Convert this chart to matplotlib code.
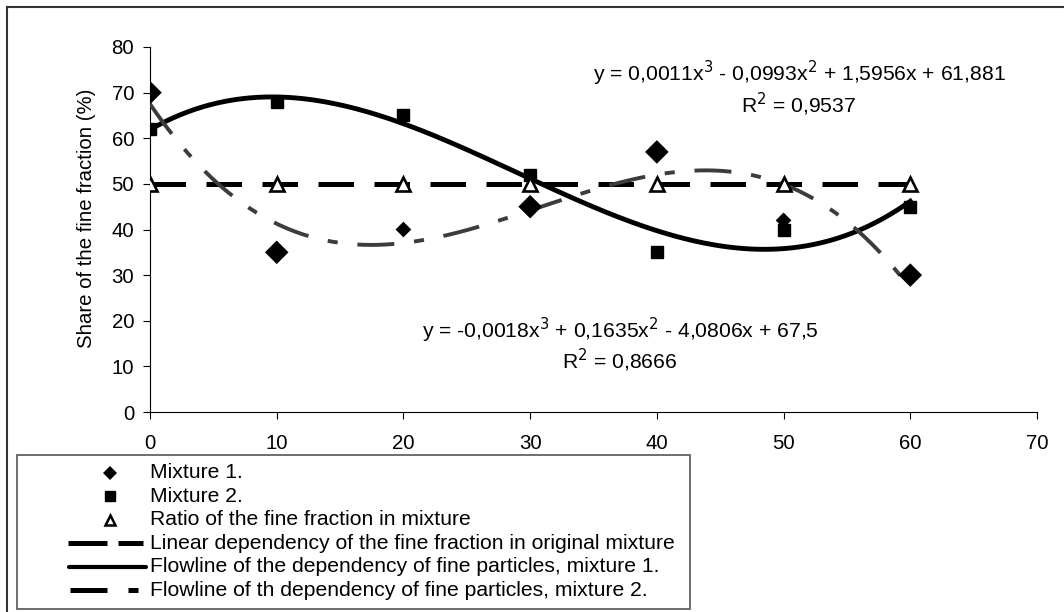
import matplotlib.pyplot as plt
from matplotlib.lines import Line2D
from matplotlib.patches import Rectangle
import numpy as np

plt.rcParams['font.family'] = ['Liberation Sans', 'DejaVu Sans']

# data
x = [0, 10, 20, 30, 40, 50, 60]
mix1 = [70, 35, 40, 45, 57, 42, 30]
mix2 = [62, 68, 65, 52, 35, 40, 45]
ratio = [50, 50, 50, 50, 50, 50, 50]

eq1 = 'y = 0,0011x$^3$ - 0,0993x$^2$ + 1,5956x + 61,881'
r2_1 = 'R$^2$ = 0,9537'
eq2 = 'y = -0,0018x$^3$ + 0,1635x$^2$ - 4,0806x + 67,5'
r2_2 = 'R$^2$ = 0,8666'

labels = ['Mixture 1.', 'Mixture 2.', 'Ratio of the fine fraction in mixture',
          'Linear dependency of the fine fraction in original mixture',
          'Flowline of the dependency of fine particles, mixture 1.',
          'Flowline of th dependency of fine particles, mixture 2.']

W, H = 1064, 612
FS = 15.2


def fx(px):
    return px / W


def fy(py):
    return 1 - py / H


fig = plt.figure(figsize=(W / 100, H / 100), dpi=100)
ax = fig.add_axes([fx(150), fy(412), fx(887), 365 / H])

# cubic trend lines (Excel polynomial order 3)
xs = np.linspace(0, 60, 300)
p2 = np.polyfit(x, mix2, 3)
p1 = np.polyfit(x, mix1, 3)
ax.plot(xs, np.polyval(p2, xs), color='black', lw=3.5, zorder=3)
ax.plot(xs, np.polyval(p1, xs), color='#3c3c3c', lw=2.8,
        dashes=(9.5, 5.1, 2.6, 5.1), zorder=3)
ax.plot(x, ratio, color='black', lw=3.6, dashes=(7.1, 4.1), zorder=2)

# the diamonds at 20 and 50 are drawn smaller in the original
dsize = [64 if i in (2, 5) else 144 for i in range(len(x))]
ax.scatter(x, mix1, marker='D', s=dsize, color='black', linewidths=0, zorder=4)
ax.plot(x, mix2, linestyle='none', marker='s', ms=9, color='black', zorder=4)
ax.plot(x, ratio, linestyle='none', marker='^', ms=10.5, mfc='white',
        mec='black', mew=1.9, zorder=5)

ax.set_xlim(0, 70)
ax.set_ylim(0, 80)
ax.set_xticks(range(0, 71, 10))
ax.set_yticks(range(0, 81, 10))
for s in ['top', 'right']:
    ax.spines[s].set_visible(False)
for s in ['left', 'bottom']:
    ax.spines[s].set_linewidth(0.8)
ax.tick_params(direction='out', length=5, width=0.8, labelsize=14.7)
ax.tick_params(axis='y', pad=6.5)
ax.tick_params(axis='x', pad=10.5)
fig.text(fx(86), fy(218), 'Share of the fine fraction (%)', rotation=90,
         ha='center', va='center', fontsize=14.7)

fig.text(fx(799), fy(73), eq1, ha='center', va='center', fontsize=FS)
fig.text(fx(799), fy(104), r2_1, ha='center', va='center', fontsize=FS)
fig.text(fx(620), fy(330), eq2, ha='center', va='center', fontsize=FS)
fig.text(fx(620), fy(360), r2_2, ha='center', va='center', fontsize=FS)

# legend, drawn by hand to get the Excel layout
rows = [fy(473 + 23.4 * i) for i in range(6)]
for i, lab in enumerate(labels):
    fig.text(fx(150), rows[i], lab, ha='left', va='center', fontsize=FS)
fig.add_artist(Line2D([fx(110)], [rows[0]], marker='D', ms=7, color='black',
                      mew=0, transform=fig.transFigure))
fig.add_artist(Line2D([fx(110)], [rows[1]], marker='s', ms=7.2, color='black',
                      transform=fig.transFigure))
fig.add_artist(Line2D([fx(110)], [rows[2]], marker='^', ms=7.5, mfc='white',
                      mec='black', mew=1.8, transform=fig.transFigure))
fig.add_artist(Line2D([fx(68), fx(143)], [rows[3]] * 2, color='black', lw=3.6,
                      dashes=(7.8, 2.2), transform=fig.transFigure))
fig.add_artist(Line2D([fx(69), fx(146)], [rows[4]] * 2, color='black', lw=3,
                      solid_capstyle='round', transform=fig.transFigure))
fig.add_artist(Line2D([fx(70), fx(139)], [rows[5]] * 2, color='black', lw=3.6,
                      dashes=(7.4, 4.2, 2.0, 9), transform=fig.transFigure))
fig.add_artist(Rectangle((fx(17), fy(609)), fx(673), 154 / H,
                         transform=fig.transFigure, fill=False,
                         edgecolor='#555555', lw=1.2))

# outer chart border (right and bottom edges are cut off in the original)
fig.add_artist(Line2D([fx(7), 1], [fy(7), fy(7)], transform=fig.transFigure,
                      color='#333333', lw=1.5))
fig.add_artist(Line2D([fx(7), fx(7)], [0, fy(7)], transform=fig.transFigure,
                      color='#333333', lw=1.5))

fig.savefig('out.png', dpi=100)
